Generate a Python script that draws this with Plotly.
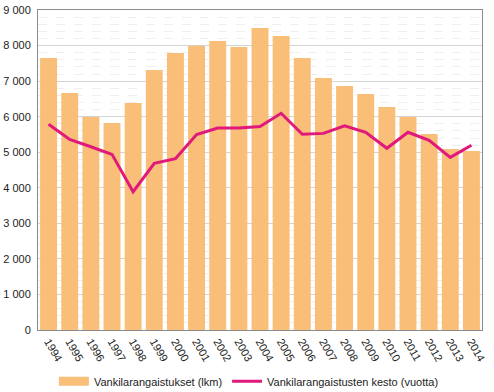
import plotly.graph_objects as go

years = [str(y) for y in range(1994, 2015)]
sentences = [7650, 6665, 5990, 5820, 6385, 7310, 7790, 7995, 8130, 7960,
             8495, 8270, 7650, 7085, 6860, 6635, 6270, 5990, 5510, 5090, 5035]
duration = [5785, 5360, 5155, 4940, 3890, 4690, 4820, 5500, 5680, 5680,
            5720, 6095, 5505, 5530, 5745, 5560, 5110, 5560, 5335, 4855, 5195]
y_ticks = [0, 1000, 2000, 3000, 4000, 5000, 6000, 7000, 8000, 9000]
y_tick_labels = ["0", "1 000", "2 000", "3 000", "4 000", "5 000", "6 000", "7 000", "8 000", "9 000"]

BAR_COLOR = "#F9BE78"
LINE_COLOR = "#E0197A"

fig = go.Figure()
fig.add_trace(go.Bar(x=years, y=sentences, name="Vankilarangaistukset (lkm)",
                     marker=dict(color=BAR_COLOR, line=dict(width=0)), showlegend=False))
# legend-only entry to give the bar series a wide rectangular swatch
fig.add_trace(go.Scatter(x=[None], y=[None], name="Vankilarangaistukset (lkm)",
                         mode="lines", line=dict(color=BAR_COLOR, width=9)))
fig.add_trace(go.Scatter(x=years, y=duration, name="Vankilarangaistusten kesto (vuotta)",
                         mode="lines", line=dict(color=LINE_COLOR, width=3)))

fig.update_layout(
    width=494, height=392,
    margin=dict(l=38, r=12, t=10, b=62, autoexpand=False),
    paper_bgcolor="white", plot_bgcolor="white",
    font=dict(family="Liberation Sans, Arial, sans-serif", size=11, color="#222"),
    bargap=0.2,
    showlegend=True,
    legend=dict(orientation="h", x=0.475, xanchor="center", y=-0.115, yanchor="top",
                font=dict(size=11), traceorder="normal", itemwidth=30),
    xaxis=dict(type="category", tickangle=60, showline=True, linecolor="#8c8c8c",
               mirror=True, ticks="", showgrid=False, range=[-0.5, 20.5], automargin=False),
    yaxis=dict(range=[0, 9000], tickvals=y_ticks, ticktext=y_tick_labels,
               showline=True, linecolor="#8c8c8c", mirror=True, automargin=False,
               showgrid=True, gridcolor="#d4d4d4", gridwidth=1, zeroline=False,
               ticks="", ticklabelstandoff=4,
               minor=dict(dtick=200, showgrid=True, gridcolor="#efefef", griddash="dash")),
)

fig.write_html("out.html", config={"displayModeBar": False},
               post_script="document.body.style.margin='0';")
